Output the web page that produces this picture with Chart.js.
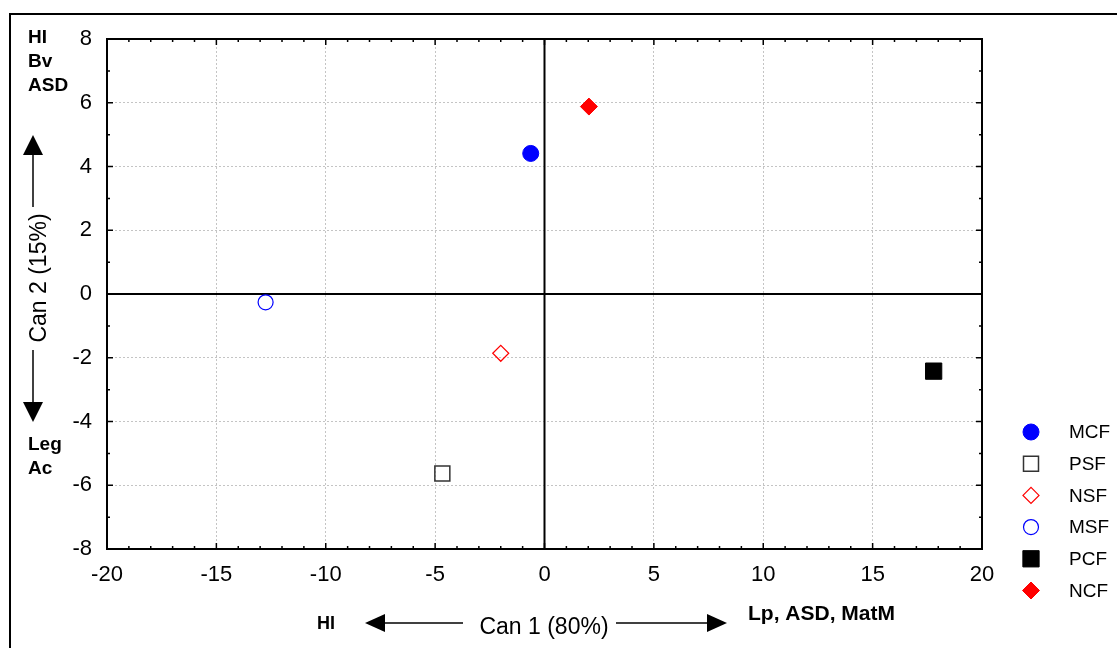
<!DOCTYPE html>
<html>
<head>
<meta charset="utf-8">
<script src="https://cdn.jsdelivr.net/npm/chart.js@4/dist/chart.umd.min.js"></script>
<style>
  html, body { margin: 0; padding: 0; background: #fff; }
  #wrap { width: 1117px; height: 648px; position: relative; }
</style>
</head>
<body>
<div id="wrap"><canvas id="chart" width="1117" height="648"></canvas></div>
<script>
// group labels and centroid scores (Can 1, Can 2)
let groups = ['MCF', 'PSF', 'NSF', 'MSF', 'PCF', 'NCF'];
let can1 = [-0.63, -4.67, -2.0, -12.75, 17.79, 2.03];
let can2 = [4.41, -5.63, -1.86, -0.26, -2.42, 5.88];

let xTicks = [-20, -15, -10, -5, 0, 5, 10, 15, 20];
let yTicks = [-8, -6, -4, -2, 0, 2, 4, 6, 8];

let blue = '#0000FF';
let red = '#FF0000';
let black = '#000000';

let markerStyle = {
  MCF: {pointStyle: 'circle', radius: 8, fill: blue, stroke: blue, width: 1},
  PSF: {pointStyle: 'rect', radius: 10.6, fill: 'rgba(0,0,0,0)', stroke: '#333', width: 1.5},
  NSF: {pointStyle: 'rectRot', radius: 8, fill: 'rgba(0,0,0,0)', stroke: red, width: 1.2},
  MSF: {pointStyle: 'circle', radius: 7.5, fill: 'rgba(0,0,0,0)', stroke: blue, width: 1.2},
  PCF: {pointStyle: 'rect', radius: 11.5, fill: black, stroke: black, width: 1},
  NCF: {pointStyle: 'rectRot', radius: 8.5, fill: red, stroke: red, width: 1}
};

let fontFamily = '"Liberation Sans", Arial, sans-serif';

function arrow(ctx, x1, y1, x2, y2, headLen, headHalf) {
  // shaft from (x1,y1) to the base of the head, head tip at (x2,y2)
  let ang = Math.atan2(y2 - y1, x2 - x1);
  let bx = x2 - Math.cos(ang) * headLen;
  let by = y2 - Math.sin(ang) * headLen;
  ctx.beginPath();
  ctx.moveTo(x1, y1);
  ctx.lineTo(bx, by);
  ctx.lineWidth = 1.5;
  ctx.strokeStyle = black;
  ctx.stroke();
  ctx.beginPath();
  ctx.moveTo(x2, y2);
  ctx.lineTo(bx - Math.sin(ang) * headHalf, by + Math.cos(ang) * headHalf);
  ctx.lineTo(bx + Math.sin(ang) * headHalf, by - Math.cos(ang) * headHalf);
  ctx.closePath();
  ctx.fillStyle = black;
  ctx.fill();
}

let decor = {
  id: 'decor',
  beforeDraw(chart) {
    let ctx = chart.ctx;
    ctx.save();
    ctx.fillStyle = '#fff';
    ctx.fillRect(0, 0, chart.width, chart.height);
    // outer frame
    ctx.strokeStyle = black;
    ctx.lineWidth = 2;
    ctx.beginPath();
    ctx.moveTo(10, chart.height);
    ctx.lineTo(10, 14);
    ctx.lineTo(chart.width, 14);
    ctx.stroke();
    ctx.restore();
  },
  beforeDatasetsDraw(chart) {
    let ctx = chart.ctx;
    let a = chart.chartArea;
    let xs = chart.scales.x;
    let ys = chart.scales.y;
    ctx.save();
    ctx.strokeStyle = black;
    // zero lines
    ctx.lineWidth = 2;
    let x0 = xs.getPixelForValue(0);
    let y0 = ys.getPixelForValue(0);
    ctx.beginPath();
    ctx.moveTo(x0, a.top); ctx.lineTo(x0, a.bottom);
    ctx.moveTo(a.left, y0); ctx.lineTo(a.right, y0);
    ctx.stroke();
    // inner tick marks (major 6px, minor 3px)
    ctx.lineWidth = 1.5;
    ctx.beginPath();
    for (let v = xs.min; v <= xs.max; v++) {
      let p = xs.getPixelForValue(v);
      let len = v % 5 === 0 ? 6 : 3;
      ctx.moveTo(p, a.bottom); ctx.lineTo(p, a.bottom - len);
      ctx.moveTo(p, a.top); ctx.lineTo(p, a.top + len);
    }
    for (let v = ys.min; v <= ys.max; v++) {
      let p = ys.getPixelForValue(v);
      let len = v % 2 === 0 ? 6 : 3;
      ctx.moveTo(a.left, p); ctx.lineTo(a.left + len, p);
      ctx.moveTo(a.right, p); ctx.lineTo(a.right - len, p);
    }
    ctx.stroke();
    // plot frame
    ctx.lineWidth = 2;
    ctx.strokeRect(a.left, a.top, a.right - a.left, a.bottom - a.top);
    ctx.restore();
  },
  afterDraw(chart) {
    let ctx = chart.ctx;
    ctx.save();
    ctx.fillStyle = black;
    ctx.textBaseline = 'middle';

    // x axis title with arrows
    ctx.font = '23px ' + fontFamily;
    ctx.textAlign = 'center';
    ctx.fillText('Can 1 (80%)', 544, 628);
    arrow(ctx, 463, 623, 365, 623, 20, 9);
    arrow(ctx, 616, 623, 727, 623, 20, 9);
    ctx.font = 'bold 18px ' + fontFamily;
    ctx.textAlign = 'left';
    ctx.fillText('HI', 317, 624);
    ctx.font = 'bold 21px ' + fontFamily;
    ctx.fillText('Lp, ASD, MatM', 748, 614);

    // y axis title with arrows
    ctx.save();
    ctx.translate(40, 278);
    ctx.rotate(-Math.PI / 2);
    ctx.font = '23px ' + fontFamily;
    ctx.textAlign = 'center';
    ctx.fillText('Can 2 (15%)', 0, 0);
    ctx.restore();
    arrow(ctx, 33, 207, 33, 135, 20, 10);
    arrow(ctx, 33, 350, 33, 422, 20, 10);
    ctx.font = 'bold 19px ' + fontFamily;
    ctx.textAlign = 'left';
    ctx.fillText('HI', 28, 38);
    ctx.fillText('Bv', 28, 62);
    ctx.fillText('ASD', 28, 86);
    ctx.fillText('Leg', 28, 445);
    ctx.fillText('Ac', 28, 469);

    // legend, built from the datasets
    ctx.font = '19px ' + fontFamily;
    chart.data.datasets.forEach((ds, i) => {
      let y = 432 + i * 31.7;
      ctx.fillStyle = ds.backgroundColor;
      ctx.strokeStyle = ds.borderColor;
      ctx.lineWidth = ds.borderWidth;
      Chart.helpers.drawPoint(ctx, {
        pointStyle: ds.pointStyle,
        radius: ds.pointRadius,
        borderWidth: ds.borderWidth,
        rotation: 0
      }, 1031, y);
      ctx.fillStyle = black;
      ctx.fillText(ds.label, 1069, y + 1);
    });
    ctx.restore();
  }
};

let datasets = groups.map((g, i) => {
  let s = markerStyle[g];
  return {
    label: g,
    data: [{x: can1[i], y: can2[i]}],
    pointStyle: s.pointStyle,
    pointRadius: s.radius,
    pointHoverRadius: s.radius,
    backgroundColor: s.fill,
    borderColor: s.stroke,
    borderWidth: s.width
  };
});

new Chart('chart', {
  type: 'scatter',
  data: {datasets: datasets},
  options: {
    responsive: false,
    animation: false,
    events: [],
    layout: {padding: {left: 0, top: 39, right: 135, bottom: 0}},
    plugins: {
      legend: {display: false},
      tooltip: {enabled: false}
    },
    scales: {
      x: {
        min: -20,
        max: 20,
        afterBuildTicks: scale => { scale.ticks = xTicks.map(v => ({value: v})); },
        afterFit: scale => { scale.height = 99; },
        ticks: {
          color: black,
          font: {family: fontFamily, size: 22},
          padding: 13,
          maxRotation: 0
        },
        grid: {
          drawTicks: false,
          color: c => (c.tick && c.tick.value === 0) ? 'rgba(0,0,0,0)' : '#c4c4c4',
          lineWidth: 1
        },
        border: {display: false, dash: [2, 2]}
      },
      y: {
        min: -8,
        max: 8,
        afterBuildTicks: scale => { scale.ticks = yTicks.map(v => ({value: v})); },
        afterFit: scale => { scale.width = 107; },
        ticks: {
          color: black,
          font: {family: fontFamily, size: 22},
          padding: 15
        },
        grid: {
          drawTicks: false,
          color: c => (c.tick && c.tick.value === 0) ? 'rgba(0,0,0,0)' : '#c4c4c4',
          lineWidth: 1
        },
        border: {display: false, dash: [2, 2]}
      }
    }
  },
  plugins: [decor]
});
</script>
</body>
</html>
